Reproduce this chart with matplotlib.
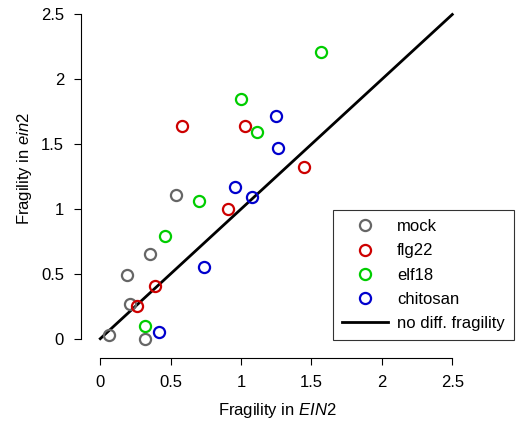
import matplotlib
matplotlib.use("Agg")
import matplotlib.pyplot as plt
from matplotlib.lines import Line2D

plt.rcParams['font.family'] = ['Liberation Sans', 'DejaVu Sans']
plt.rcParams['mathtext.fontset'] = 'custom'
plt.rcParams['mathtext.rm'] = 'Liberation Sans'
plt.rcParams['mathtext.it'] = 'Liberation Sans:italic'

# fragility values (x: EIN2, y: ein2) per treatment
mock_x = [0.06, 0.32, 0.21, 0.19, 0.35, 0.54]
mock_y = [0.03, 0.00, 0.27, 0.49, 0.65, 1.11]
flg22_x = [0.26, 0.39, 0.58, 0.91, 1.03, 1.45]
flg22_y = [0.25, 0.41, 1.64, 1.00, 1.64, 1.32]
elf18_x = [0.32, 0.46, 0.70, 1.11, 1.00, 1.57]
elf18_y = [0.10, 0.79, 1.06, 1.59, 1.85, 2.21]
chitosan_x = [0.42, 0.74, 0.96, 1.08, 1.26, 1.25]
chitosan_y = [0.05, 0.55, 1.17, 1.09, 1.47, 1.72]

labels = ['mock', 'flg22', 'elf18', 'chitosan']
colors = ['#666666', '#CD0000', '#00CD00', '#0000CD']
ticks = [0, 0.5, 1, 1.5, 2, 2.5]
tick_labels = ['0', '0.5', '1', '1.5', '2', '2.5']

fig = plt.figure(figsize=(5.18, 4.29), dpi=100)
ax = fig.add_axes([0.1558, 0.1655, 0.7853, 0.831])

# diagonal: no differential fragility
ax.plot([0, 2.5], [0, 2.5], color='black', lw=2, zorder=1)

series = [(mock_x, mock_y), (flg22_x, flg22_y), (elf18_x, elf18_y), (chitosan_x, chitosan_y)]
for (xs, ys), c in zip(series, colors):
    ax.plot(xs, ys, 'o', ms=8, mfc='none', mec=c, mew=1.6, zorder=2)

ax.set_xlim(-0.139, 2.75)
ax.set_ylim(-0.149, 2.6)
for s in ['top', 'right']:
    ax.spines[s].set_visible(False)
ax.spines['left'].set_bounds(0, 2.5)
ax.spines['bottom'].set_bounds(0, 2.5)
ax.set_xticks(ticks)
ax.set_xticklabels(tick_labels)
ax.set_yticks(ticks)
ax.set_yticklabels(tick_labels)
ax.tick_params(direction='out', length=5, width=0.8, labelsize=12, pad=7)

fig.text(277 / 518, 1 - 410 / 429, r'Fragility in $\mathit{EIN2}$', ha='center', va='center', fontsize=12)
fig.text(25 / 518, 1 - 168 / 429, r'Fragility in $\mathit{ein2}$', ha='center', va='center',
         fontsize=12, rotation=90)

handles = [Line2D([], [], ls='none', marker='o', ms=8, mfc='none', mec=c, mew=1.6) for c in colors]
handles.append(Line2D([], [], color='black', lw=2))
leg = ax.legend(handles, labels + ['no diff. fragility'], loc='lower left',
                bbox_to_anchor=(333 / 518, 1 - 340 / 429), bbox_transform=fig.transFigure,
                fontsize=12, frameon=True, fancybox=False, handlelength=2.75,
                handletextpad=0.55, labelspacing=0.55, borderpad=0.55, borderaxespad=0)
leg.get_frame().set_edgecolor('black')
leg.get_frame().set_linewidth(0.8)

fig.savefig('out.png', dpi=100)
